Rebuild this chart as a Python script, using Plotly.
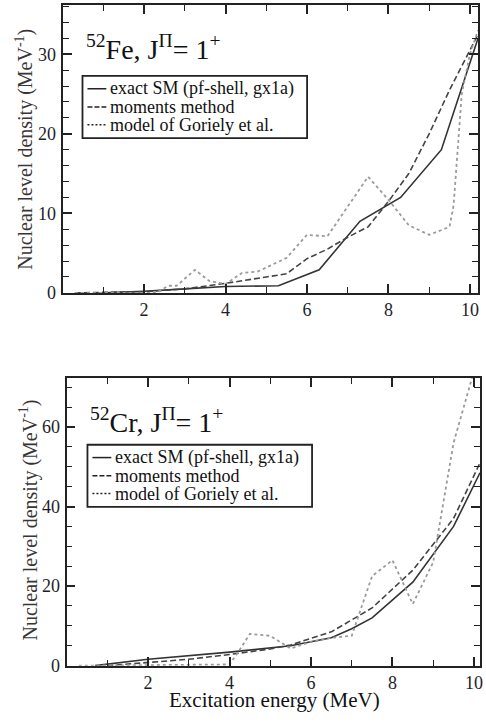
import plotly.graph_objects as go

# ---------------- data ----------------
fe_energy_sm = [1.0, 2.0, 3.0, 4.0, 5.3, 6.3, 7.3, 8.3, 9.3, 10.2]
fe_sm = [0.0, 0.2, 0.5, 0.8, 0.9, 2.9, 9.0, 12.0, 18.0, 32.0]

fe_energy_mm = [0.3, 2.0, 3.0, 4.0, 5.0, 5.5, 6.0, 6.5, 7.0, 7.5, 8.0, 8.5, 9.0, 9.5, 10.2]
fe_mm = [0.0, 0.15, 0.5, 1.2, 2.0, 2.4, 4.3, 5.5, 7.0, 8.3, 11.5, 15.0, 20.0, 25.5, 32.5]

fe_energy_g = [0.3, 2.3, 2.6, 2.8, 3.25, 3.6, 4.0, 4.4, 4.8, 5.5, 6.0, 6.5, 7.5, 8.0,
               8.5, 9.0, 9.5, 9.6, 9.8, 10.0, 10.2]
fe_g = [0.0, 0.0, 0.9, 0.9, 2.9, 1.5, 1.1, 2.5, 2.7, 4.4, 7.3, 7.1, 14.6, 11.7,
        8.5, 7.3, 8.3, 11.0, 25.0, 30.0, 33.0]

cr_energy_sm = [0.7, 2.0, 4.0, 5.5, 6.5, 7.0, 7.5, 8.5, 9.5, 10.15]
cr_sm = [0.0, 1.6, 3.4, 5.0, 7.0, 9.3, 12.0, 21.0, 35.0, 48.5]

cr_energy_mm = [1.0, 2.0, 3.0, 4.0, 5.0, 5.5, 6.5, 7.5, 8.5, 9.5, 10.15]
cr_mm = [0.0, 0.8, 1.6, 2.8, 4.2, 5.2, 8.5, 14.5, 24.0, 37.0, 51.0]

cr_energy_g = [0.3, 4.0, 4.25, 4.5, 5.0, 5.5, 6.0, 6.5, 7.0, 7.5, 8.0, 8.5, 9.0, 9.5, 10.0]
cr_g = [0.0, 0.3, 4.0, 8.0, 7.5, 4.3, 6.0, 7.0, 7.5, 22.5, 26.5, 15.5, 26.0, 56.0, 74.0]

series_names = ["exact SM (pf-shell, gx1a)", "moments method", "model of Goriely et al."]
panel_titles = ["<sup>52</sup>Fe, J<sup>Π</sup>= 1<sup>+</sup>",
                "<sup>52</sup>Cr, J<sup>Π</sup>= 1<sup>+</sup>"]
x_title = "Excitation energy (MeV)"
y_title = "Nuclear level density (MeV<sup>-1</sup>)"
x_ticks = [2, 4, 6, 8, 10]
fe_y_ticks = [0, 10, 20, 30]
cr_y_ticks = [0, 20, 40, 60]

# ---------------- styling ----------------
W, H = 486, 722
FONT = "Liberation Serif"
TXT = "#1e1e28"
styles = [dict(color="#333333", width=1.6, dash="solid"),
          dict(color="#444444", width=1.6, dash="6px,3px"),
          dict(color="#9a9a9a", width=1.8, dash="dot")]
legend_styles = [dict(color="#222222", width=1.5, dash="solid"),
                 dict(color="#222222", width=1.5, dash="5px,2px"),
                 dict(color="#222222", width=1.5, dash="2px,2px")]


def px_x(p):
    return p / W


def px_y(p):
    return 1 - p / H


fig = go.Figure()

panels = [
    dict(x=[fe_energy_sm, fe_energy_mm, fe_energy_g], y=[fe_sm, fe_mm, fe_g],
         xa="x", ya="y", box=(63, 5, 481, 297), xr=[0, 10.2], yr=[0, 36.2],
         yt=fe_y_ticks, ymin=2),
    dict(x=[cr_energy_sm, cr_energy_mm, cr_energy_g], y=[cr_sm, cr_mm, cr_g],
         xa="x2", ya="y2", box=(67, 383, 483, 675), xr=[0, 10.15], yr=[0, 72.4],
         yt=cr_y_ticks, ymin=5),
]

for i, p in enumerate(panels):
    for k in range(3):
        fig.add_trace(go.Scatter(x=p["x"][k], y=p["y"][k], mode="lines",
                                 name=series_names[k], line=styles[k],
                                 xaxis=p["xa"], yaxis=p["ya"], showlegend=False,
                                 cliponaxis=True))

shapes = []
annotations = []
title_annotations = []
for i, p in enumerate(panels):
    l, t, r, b = p["box"]
    xa_key = "xaxis" if i == 0 else "xaxis2"
    ya_key = "yaxis" if i == 0 else "yaxis2"
    common = dict(showline=True, linecolor="#222222", linewidth=1.8, mirror="allticks",
                  ticks="inside", ticklen=9, tickwidth=1.5, tickcolor="#222222",
                  showgrid=False, zeroline=False,
                  tickfont=dict(family=FONT, size=18, color=TXT))
    fig.update_layout({
        xa_key: dict(common, domain=[px_x(l), px_x(r)], range=p["xr"],
                     anchor=p["ya"], tickmode="array", tickvals=x_ticks,
                     ticklabelstandoff=0,
                     minor=dict(dtick=1, tick0=0, ticks="inside", ticklen=6,
                                tickwidth=1.3, tickcolor="#222222")),
        ya_key: dict(common, domain=[px_y(b), px_y(t)], range=p["yr"],
                     anchor=p["xa"], tickmode="array", tickvals=p["yt"],
                     ticklabelstandoff=1,
                     minor=dict(dtick=p["ymin"], tick0=0, ticks="inside", ticklen=6,
                                tickwidth=1.3, tickcolor="#222222")),
    })
    # panel title
    title_annotations.append(dict(text=panel_titles[i], xref="paper", yref="paper",
                                  x=px_x(l + 22), y=px_y(t + 43), xanchor="left",
                                  yanchor="middle", align="left", showarrow=False,
                                  font=dict(family=FONT, size=28, color="#111111")))
    # legend box
    bl, bt = l + 20 + (1 if i else 0), t + 72 - (4 if i else 0)
    br, bb = bl + 226, bt + 63
    shapes.append(dict(type="rect", xref="paper", yref="paper",
                       x0=px_x(bl), x1=px_x(br), y0=px_y(bb), y1=px_y(bt),
                       line=dict(color="#222222", width=1.8),
                       fillcolor="white"))
    row_y = [bt + 13, bt + 31.5, bt + 49.5]
    for k in range(3):
        shapes.append(dict(type="line", xref="paper", yref="paper",
                           x0=px_x(bl + 5), x1=px_x(bl + 24),
                           y0=px_y(row_y[k]), y1=px_y(row_y[k]),
                           line=legend_styles[k]))
        annotations.append(dict(text=series_names[k], xref="paper", yref="paper",
                                x=px_x(bl + 26), y=px_y(row_y[k]), xanchor="left",
                                yanchor="middle", showarrow=False,
                                font=dict(family=FONT, size=18, color="#111111")))

# axis titles
annotations.append(dict(text=y_title, xref="paper", yref="paper", x=px_x(25),
                        y=px_y(151), textangle=-90, xanchor="center", yanchor="middle",
                        showarrow=False, font=dict(family=FONT, size=20, color="#3a3535")))
annotations.append(dict(text=y_title, xref="paper", yref="paper", x=px_x(29),
                        y=px_y(527), textangle=-90, xanchor="center", yanchor="middle",
                        showarrow=False, font=dict(family=FONT, size=20, color="#3a3535")))
annotations.append(dict(text=x_title, xref="paper", yref="paper", x=px_x(276),
                        y=px_y(710), xanchor="center", yanchor="middle",
                        showarrow=False,
                        font=dict(family=FONT, size=21, color="#111111")))
annotations.extend(title_annotations)

fig.update_layout(width=W, height=H, margin=dict(l=0, r=0, t=0, b=0),
                  paper_bgcolor="white", plot_bgcolor="white",
                  font=dict(family=FONT),
                  shapes=shapes, annotations=annotations, showlegend=False)

fig.write_html("out.html", config={"displayModeBar": False},
               post_script="document.body.style.margin='0px';"
                           "document.body.style.overflow='hidden';")
